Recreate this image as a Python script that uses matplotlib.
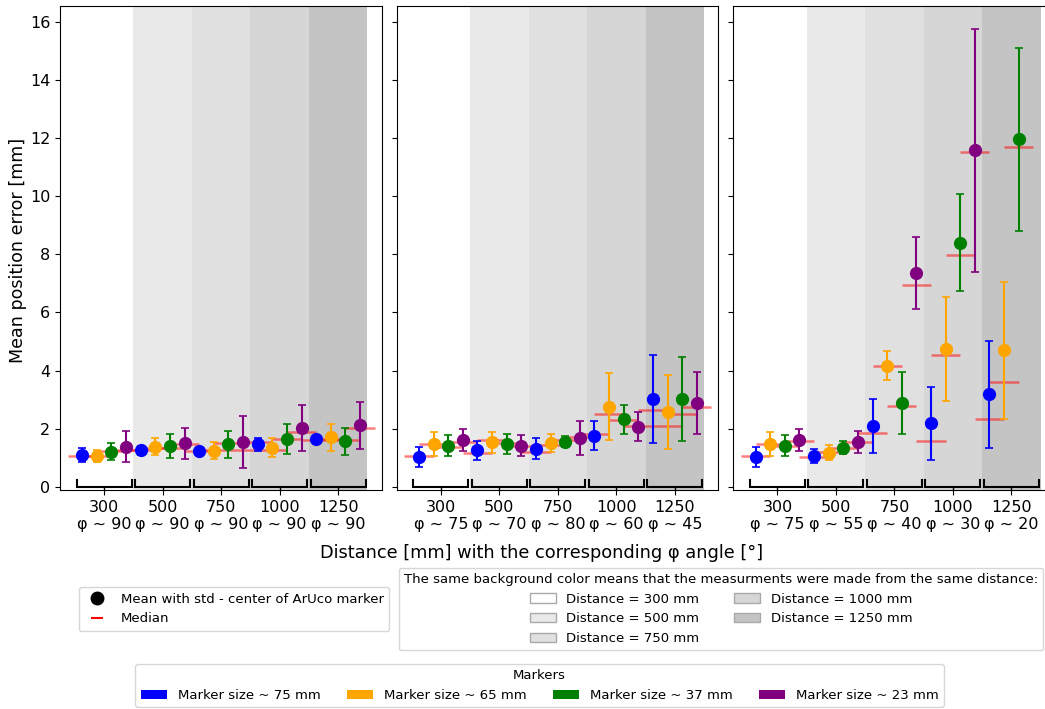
import numpy as np
import matplotlib
matplotlib.use("Agg")
import matplotlib.pyplot as plt
from matplotlib.lines import Line2D
from matplotlib.patches import Patch

# --- data ---
distances = [300, 500, 750, 1000, 1250]
marker_labels = ["Marker size ~ 75 mm", "Marker size ~ 65 mm",
                 "Marker size ~ 37 mm", "Marker size ~ 23 mm"]
marker_colors = ["blue", "orange", "green", "purple"]
band_colors = ["#ffffff", "#e9e9e9", "#e0e0e0", "#d6d6d6", "#c4c4c4"]

phi_1 = [90, 90, 90, 90, 90]
mean_1 = [[1.09, 1.26, 1.23, 1.46, 1.63],
          [1.06, 1.38, 1.24, 1.35, 1.70],
          [1.20, 1.41, 1.46, 1.64, 1.57],
          [1.38, 1.49, 1.53, 2.03, 2.12]]
std_1 = [[0.25, 0.15, 0.08, 0.23, 0.10],
         [0.20, 0.30, 0.30, 0.33, 0.47],
         [0.29, 0.41, 0.47, 0.52, 0.46],
         [0.53, 0.54, 0.89, 0.80, 0.81]]
median_1 = [[1.05, 1.28, 1.23, 1.55, 1.62],
            [1.05, 1.32, 1.25, 1.27, 1.65],
            [1.22, 1.32, 1.50, 1.65, 1.60],
            [1.27, 1.47, 1.27, 1.88, 2.03]]

phi_2 = [75, 70, 80, 60, 45]
mean_2 = [[1.03, 1.26, 1.31, 1.76, 3.01],
          [1.46, 1.54, 1.52, 2.75, 2.58],
          [1.42, 1.47, 1.55, 2.32, 3.03],
          [1.62, 1.42, 1.68, 2.06, 2.88]]
std_2 = [[0.34, 0.33, 0.36, 0.50, 1.52],
         [0.41, 0.36, 0.31, 1.15, 1.28],
         [0.35, 0.35, 0.19, 0.50, 1.45],
         [0.38, 0.36, 0.57, 0.50, 1.08]]
median_2 = [[1.07, 1.15, 1.20, 1.80, 2.65],
            [1.46, 1.60, 1.45, 2.50, 2.10],
            [1.38, 1.50, 1.60, 2.30, 2.50],
            [1.55, 1.40, 1.72, 2.10, 2.75]]

phi_3 = [75, 55, 40, 30, 20]
mean_3 = [[1.03, 1.06, 2.09, 2.18, 3.19],
          [1.46, 1.18, 4.17, 4.73, 4.69],
          [1.42, 1.35, 2.87, 8.40, 11.95],
          [1.62, 1.54, 7.35, 11.57, np.nan]]
std_3 = [[0.34, 0.23, 0.93, 1.27, 1.84],
         [0.41, 0.25, 0.51, 1.79, 2.37],
         [0.35, 0.23, 1.07, 1.67, 3.14],
         [0.38, 0.39, 1.25, 4.17, np.nan]]
median_3 = [[1.07, 1.01, 1.86, 1.58, 2.33],
            [1.46, 1.20, 4.16, 4.53, 3.62],
            [1.40, 1.33, 2.78, 7.98, 11.69],
            [1.58, 1.55, 6.94, 11.53, np.nan]]

panels = [(phi_1, mean_1, std_1, median_1),
          (phi_2, mean_2, std_2, median_2),
          (phi_3, mean_3, std_3, median_3)]

offsets = [-0.375, -0.125, 0.125, 0.375]

W, H = 1045, 709
fig = plt.figure(figsize=(W / 100, H / 100), dpi=100)

lefts = [60, 396.7, 733.3]
ax_w = 321.7
ax_b, ax_t = 490, 6
axes = []
for i, (phi, mean, std, med) in enumerate(panels):
    ax = fig.add_axes([lefts[i] / W, 1 - ax_b / H, ax_w / W, (ax_b - ax_t) / H],
                      sharey=axes[0] if axes else None)
    axes.append(ax)
    pos = np.arange(len(distances))

    # background bands per distance
    for p, c in zip(pos, band_colors):
        ax.axvspan(p - 0.5, p + 0.5, color=c, lw=0, zorder=0)

    # brackets per distance group
    for p in pos:
        ax.plot([p - 0.47, p - 0.47, p + 0.47, p + 0.47], [0.23, 0, 0, 0.23],
                color="black", lw=1.5, zorder=2, solid_joinstyle="miter")
        ax.plot([p, p], [0, -0.2], color="black", lw=1.0, zorder=2)

    for k in range(4):
        x = pos + offsets[k]
        ax.hlines(med[k], x - 0.25, x + 0.25, color="red", alpha=0.5, lw=1.8, zorder=3)
        ax.errorbar(x, mean[k], yerr=std[k], fmt="o", color=marker_colors[k],
                    ms=8.5, elinewidth=1.5, capsize=3, capthick=1.2, zorder=4)

    ax.set_xlim(-0.755, 4.745)
    ax.set_xticks(pos)
    ax.set_xticklabels([f"{d}\nφ ~ {a}" for d, a in zip(distances, phi)], fontsize=11.5)
    ax.tick_params(axis="y", labelsize=11.5)
    if i > 0:
        ax.tick_params(axis="y", labelleft=False)

axes[0].set_ylim(-0.11, 16.54)
axes[0].set_yticks(np.arange(0, 17, 2))

fig.text(542 / W, 1 - 553 / H, "Distance [mm] with the corresponding φ angle [°]",
         ha="center", va="center", fontsize=12.8)
fig.text(18 / W, 1 - 250 / H, "Mean position error [mm]", ha="center", va="center",
         rotation=90, fontsize=12.6)

# legends
leg_fs = 9.5
h1 = [Line2D([], [], marker="o", color="black", linestyle="None", markersize=9,
             label="Mean with std - center of ArUco marker"),
      Line2D([], [], marker="_", color="red", linestyle="None", markersize=9,
             markeredgewidth=1.5, label="Median")]
fig.legend(handles=h1, loc="center", bbox_to_anchor=(234 / W, 1 - 609 / H), fontsize=leg_fs)

h2 = [Patch(facecolor=c, edgecolor="darkgray", label=f"Distance = {d} mm")
      for d, c in zip(distances, band_colors)]
fig.legend(handles=h2, loc="center", bbox_to_anchor=(721 / W, 1 - 609 / H), ncol=2,
           fontsize=leg_fs, columnspacing=2.6,
           title="The same background color means that the measurments were made from the same distance:",
           title_fontsize=leg_fs)

h3 = [Patch(facecolor=c, label=l) for l, c in zip(marker_labels, marker_colors)]
fig.legend(handles=h3, loc="center", bbox_to_anchor=(539.5 / W, 1 - 685.5 / H), ncol=4,
           fontsize=leg_fs, title="Markers", title_fontsize=leg_fs)

fig.savefig("out.png", dpi=100)
